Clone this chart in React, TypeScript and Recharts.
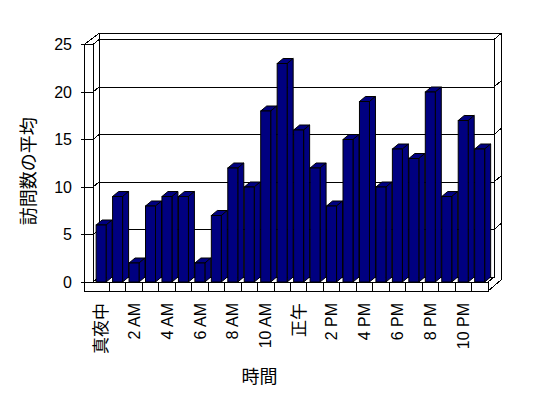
import { BarChart, Bar, XAxis, YAxis, ReferenceArea, Label } from "recharts";

const hours = [
  "真夜中", "1 AM", "2 AM", "3 AM", "4 AM", "5 AM", "6 AM", "7 AM", "8 AM", "9 AM", "10 AM", "11 AM",
  "正午", "1 PM", "2 PM", "3 PM", "4 PM", "5 PM", "6 PM", "7 PM", "8 PM", "9 PM", "10 PM", "11 PM",
];
const visits = [6, 9, 2, 8, 9, 9, 2, 7, 12, 10, 18, 23, 16, 12, 8, 15, 19, 10, 14, 13, 20, 9, 17, 14];
const yTicks = [0, 5, 10, 15, 20, 25];

const data = hours.map((hour, i) => ({ hour, visits: visits[i] }));

const NAVY = "#000080";
const FONT = "'Liberation Sans', 'Noto Sans CJK JP', sans-serif";
// depth of bars and offset of the back wall
const DX = 6;
const DY = -5;
// thickness of the left wall and the floor
const WALL = 9;

function Bar3D(props: any) {
  const { x, y, width, height } = props;
  if (!height || height <= 0) return null;
  const r = x + width;
  const b = y + height;
  return (
    <g stroke="#000" strokeWidth={1} fill={NAVY}>
      <polygon points={`${x},${y} ${x + DX},${y + DY} ${r + DX},${y + DY} ${r},${y}`} />
      <polygon points={`${r},${y} ${r + DX},${y + DY} ${r + DX},${b + DY} ${r},${b}`} />
      <rect x={x} y={y} width={width} height={height} />
    </g>
  );
}

function Walls(props: any) {
  const { x: L, y: T, width, height } = props;
  const R = L + width;
  const B = T + height;
  const max = yTicks[yTicks.length - 1];
  const yOf = (v: number) => B - (v / max) * height;
  const pitch = width / hours.length;
  const inner = yTicks.slice(1, -1);

  return (
    <g stroke="#000" strokeWidth={1} fill="#fff" shapeRendering="crispEdges">
      <polygon
        points={`${L - WALL},${T} ${L + DX},${T - 11} ${R + 13},${T - 11} ${R + 13},${B - 2} ${R},${B + WALL} ${L - WALL},${B + WALL}`}
      />
      <rect x={L + DX} y={T + DY} width={width} height={height} />
      <polygon points={`${L},${T} ${L + DX},${T + DY} ${L + DX},${B + DY} ${L},${B}`} />
      <polygon points={`${L},${B} ${L + DX},${B + DY} ${R + DX},${B + DY} ${R},${B}`} />
      <rect x={L - WALL} y={T} width={WALL} height={height} />
      <rect x={L - WALL} y={B} width={width + WALL} height={WALL} />
      <line x1={R + DX} y1={T + DY} x2={R + 13} y2={T - 11} />
      <line x1={L + DX} y1={T - 11} x2={L + DX} y2={T + DY} />
      {inner.map((v) => (
        <g key={v}>
          <line x1={L + DX} y1={yOf(v) + DY} x2={R + DX} y2={yOf(v) + DY} />
          <line x1={R + DX} y1={yOf(v) + DY} x2={R + 13} y2={yOf(v) + DY - 6} />
          <line x1={L} y1={yOf(v)} x2={L + DX} y2={yOf(v) + DY} />
          <line x1={L - WALL} y1={yOf(v)} x2={L} y2={yOf(v)} />
        </g>
      ))}
      {yTicks.map((v) => (
        <line key={`t${v}`} x1={L - WALL - 3} y1={yOf(v)} x2={L - WALL} y2={yOf(v)} />
      ))}
      {hours.slice(1).map((h, i) => (
        <line key={h} x1={L + (i + 1) * pitch} y1={B} x2={L + (i + 1) * pitch} y2={B + WALL} />
      ))}
    </g>
  );
}

function HourTick(props: any) {
  const { x, y, payload } = props;
  const cjk = /[^\x00-\x7f]/.test(payload.value);
  return (
    <text
      x={x}
      y={y}
      transform={`rotate(-90 ${x} ${y})`}
      textAnchor="end"
      dy="0.35em"
      fill="#000"
      fontSize={cjk ? 17 : 16}
      fontFamily={cjk ? "'Noto Sans CJK JP', sans-serif" : FONT}
    >
      {payload.value}
    </text>
  );
}

const YTitle = (props: any) => {
  const { x, y, height } = props.viewBox;
  const cx = x + 19;
  const cy = y + height / 2 + 8;
  return (
    <text
      x={cx}
      y={cy}
      transform={`rotate(-90 ${cx} ${cy})`}
      textAnchor="middle"
      dominantBaseline="central"
      fontSize={18}
      fill="#000"
      fontFamily="'Noto Sans CJK JP', sans-serif"
    >
      訪問数の平均
    </text>
  );
};

const XTitle = (props: any) => {
  const { x, y, width } = props.viewBox;
  return (
    <text
      x={x + width / 2 - 31}
      y={y + 93}
      textAnchor="middle"
      dominantBaseline="central"
      fontSize={18}
      fill="#000"
      fontFamily="'Noto Sans CJK JP', sans-serif"
    >
      時間
    </text>
  );
};

export default function App() {
  return (
    <BarChart
      width={532}
      height={382}
      data={data}
      margin={{ top: 36.5, right: 52, bottom: 0, left: 0 }}
      barCategoryGap="19%"
      style={{ fontFamily: FONT }}
    >
      <XAxis
        dataKey="hour"
        interval={1}
        height={108}
        axisLine={false}
        tickLine={false}
        tickSize={0}
        tickMargin={21}
        tick={<HourTick />}
      >
        <Label content={XTitle} />
      </XAxis>
      <YAxis
        width={85}
        domain={[0, 25]}
        ticks={yTicks}
        axisLine={false}
        tickLine={false}
        tickSize={0}
        tickMargin={21}
        tick={{ fill: "#000", fontSize: 16 }}
      >
        <Label content={YTitle} />
      </YAxis>
      <ReferenceArea y1={0} y2={25} ifOverflow="visible" shape={<Walls />} />
      <Bar dataKey="visits" shape={<Bar3D />} isAnimationActive={false} />
    </BarChart>
  );
}
